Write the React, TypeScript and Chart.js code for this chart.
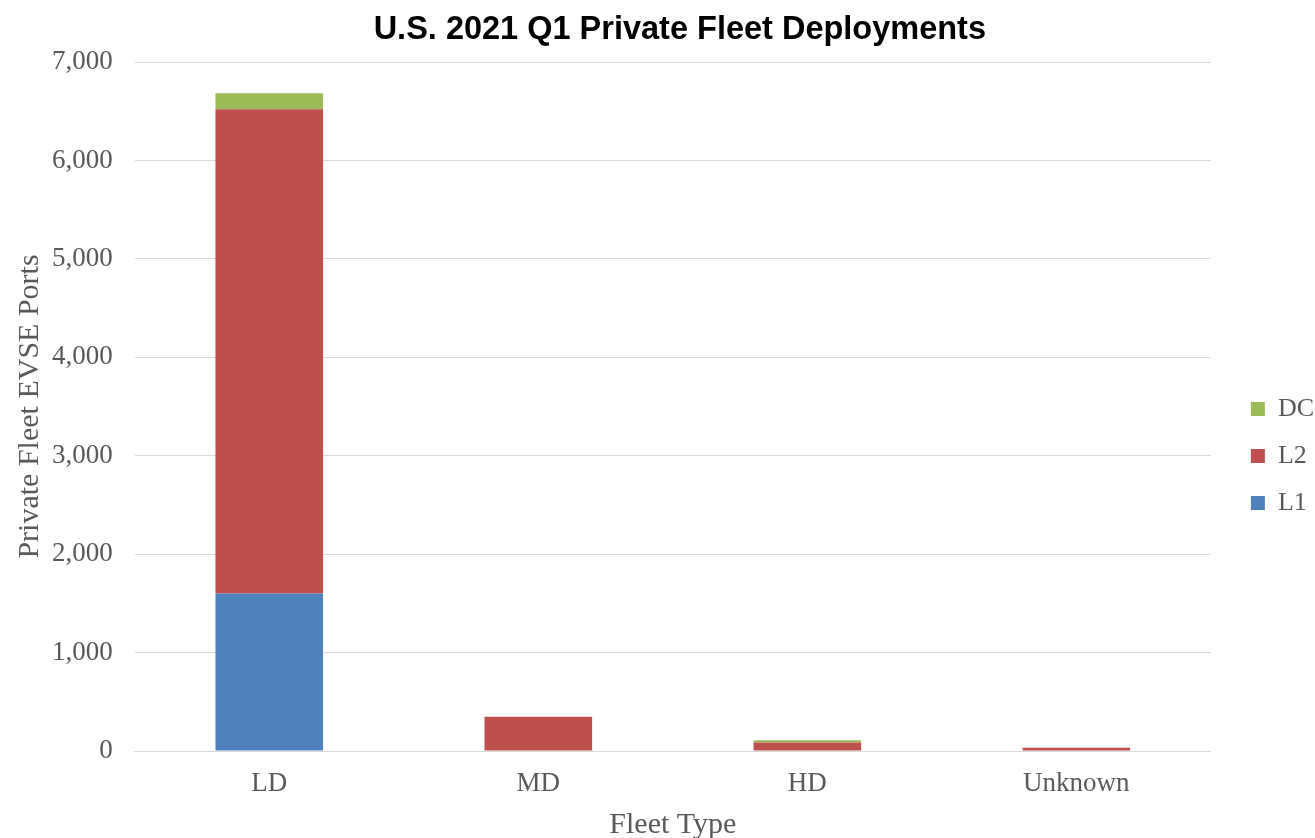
import React, { useEffect, useRef } from "react";
import { Chart, registerables } from "chart.js";

Chart.register(...registerables);

const categories = ["LD", "MD", "HD", "Unknown"];
const l1Values = [1600, 0, 0, 0];
const l2Values = [4920, 348, 87, 32];
const dcValues = [163, 0, 22, 0];
const yTicks = [0, 1000, 2000, 3000, 4000, 5000, 6000, 7000];

const TEXT = "#595959";
const SERIF = "'Liberation Serif', 'Times New Roman', serif";

const shiftPlugin = {
  id: "shiftBlocks",
  afterLayout(chart: any) {
    const lg = chart.legend;
    if (lg) {
      lg.left += 19;
      lg.right += 19;
      lg.top += 37;
      lg.bottom += 37;
    }
    const tb = chart.titleBlock;
    if (tb) {
      tb.left += 7;
      tb.right += 7;
    }
  },
};

export default function App() {
  const ref = useRef<HTMLCanvasElement | null>(null);
  useEffect(() => {
    document.body.style.margin = "0";
    const ctx = ref.current!;
    const chart = new Chart(ctx, {
      type: "bar",
      data: {
        labels: categories,
        datasets: [
          { label: "L1", data: l1Values, backgroundColor: "#4f81bd" },
          { label: "L2", data: l2Values, backgroundColor: "#c0504d" },
          { label: "DC", data: dcValues, backgroundColor: "#9bbb59" },
        ],
      },
      plugins: [shiftPlugin],
      options: {
        animation: false,
        responsive: true,
        maintainAspectRatio: false,
        layout: { padding: { top: 0, right: 10, left: 0, bottom: 0 } },
        datasets: { bar: { categoryPercentage: 1, barPercentage: 0.4 } },
        plugins: {
          title: {
            display: true,
            text: "U.S. 2021 Q1 Private Fleet Deployments",
            font: { family: "'Liberation Sans', Arial, sans-serif", size: 32.5, weight: "bold", lineHeight: 1.2 },
            color: "#000",
            padding: { top: 11, bottom: 12 },
            fullSize: false,
          },
          legend: {
            position: "right",
            reverse: true,
            labels: {
              font: { family: SERIF, size: 26 },
              color: TEXT,
              boxWidth: 14,
              boxHeight: 14,
              padding: 21,
            },
          },
          tooltip: { enabled: false },
        },
        scales: {
          x: {
            stacked: true,
            grid: { display: false, drawTicks: false },
            border: { display: true, color: "#d9d9d9", width: 1 },
            ticks: { font: { family: SERIF, size: 27, lineHeight: 1.2 }, color: TEXT, padding: 16.8 },
            title: {
              display: true,
              text: "Fleet Type",
              font: { family: SERIF, size: 30, lineHeight: 1 },
              color: TEXT,
              padding: { top: -6.5, bottom: -2.5 },
            },
          },
          y: {
            stacked: true,
            min: 0,
            max: 7000,
            afterBuildTicks: (axis: any) => {
              axis.ticks = yTicks.map((v) => ({ value: v }));
            },
            grid: { color: "#d9d9d9", drawTicks: false },
            border: { display: false },
            ticks: {
              font: { family: SERIF, size: 27, lineHeight: 1.2 },
              color: TEXT,
              padding: 22,
              callback: (v: any) => Number(v).toLocaleString("en-US"),
            },
            title: {
              display: true,
              text: "Private Fleet EVSE Ports",
              font: { family: SERIF, size: 30, lineHeight: 1 },
              color: TEXT,
              padding: { top: 15.5, bottom: -15.5 },
            },
          },
        },
      },
    });
    return () => chart.destroy();
  }, []);
  return (
    <div style={{ width: 1315, height: 838, position: "relative" }}>
      <canvas ref={ref} />
    </div>
  );
}
